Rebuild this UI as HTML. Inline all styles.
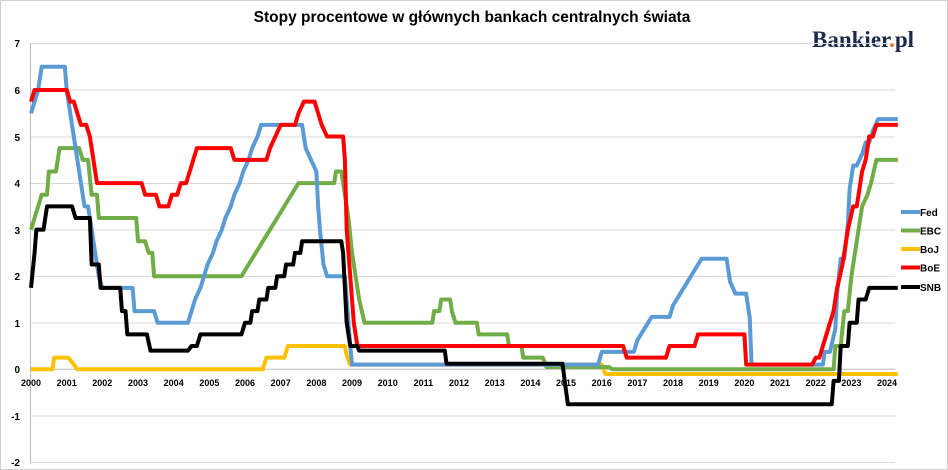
<!DOCTYPE html>
<html><head><meta charset="utf-8"><style>
body{margin:0;background:#fff}
svg{display:block;font-family:"Liberation Sans",Arial,sans-serif}
</style></head><body>
<svg width="948" height="470" xmlns="http://www.w3.org/2000/svg">
<rect x="0.5" y="0.5" width="947" height="469" fill="#fff" stroke="#d0d0d0"/>
<text x="472" y="22" text-anchor="middle" font-size="15.5" font-weight="bold" fill="#000">Stopy procentowe w głównych bankach centralnych świata</text>
<text x="812" y="47" font-family="Liberation Serif,serif" font-size="23" font-weight="bold" fill="#1c2a4a">Bankier<tspan fill="#e8662a">.</tspan>pl</text>
<g stroke="#d9d9d9" stroke-width="1">
<line x1="30" x2="895" y1="43.5" y2="43.5"/>
<line x1="30" x2="895" y1="90" y2="90"/>
<line x1="30" x2="895" y1="137" y2="137"/>
<line x1="30" x2="895" y1="183.5" y2="183.5"/>
<line x1="30" x2="895" y1="230" y2="230"/>
<line x1="30" x2="895" y1="276.5" y2="276.5"/>
<line x1="30" x2="895" y1="323" y2="323"/>
<line x1="30" x2="895" y1="416" y2="416"/>
<line x1="30" x2="895" y1="462.5" y2="462.5"/>
</g>
<line x1="30.5" x2="30.5" y1="43" y2="463" stroke="#bbb"/>
<line x1="30" x2="895" y1="369.3" y2="369.3" stroke="#bbb"/>
<g font-size="10" font-weight="bold" fill="#000" text-anchor="end">
<text x="20" y="47">7</text><text x="20" y="94">6</text><text x="20" y="141">5</text><text x="20" y="187">4</text><text x="20" y="234">3</text><text x="20" y="280">2</text><text x="20" y="327">1</text><text x="20" y="373">0</text><text x="20" y="420">-1</text><text x="20" y="466">-2</text>
</g>
<g font-size="9" font-weight="bold" fill="#000" text-anchor="middle">
<text x="31" y="386">2000</text><text x="66.7" y="386">2001</text><text x="102.3" y="386">2002</text><text x="138" y="386">2003</text><text x="173.7" y="386">2004</text><text x="209.4" y="386">2005</text><text x="245" y="386">2006</text><text x="280.7" y="386">2007</text><text x="316.4" y="386">2008</text><text x="352" y="386">2009</text><text x="387.7" y="386">2010</text><text x="423.4" y="386">2011</text><text x="459" y="386">2012</text><text x="494.7" y="386">2013</text><text x="530.4" y="386">2014</text><text x="566" y="386">2015</text><text x="601.7" y="386">2016</text><text x="637.4" y="386">2017</text><text x="673" y="386">2018</text><text x="708.7" y="386">2019</text><text x="744.4" y="386">2020</text><text x="780" y="386">2021</text><text x="815.7" y="386">2022</text><text x="851.4" y="386">2023</text><text x="887" y="386">2024</text>
</g>
<g transform="matrix(35.67 0 0 -46.55 31 369.3)" fill="none" stroke-linejoin="round">
<polyline stroke="#ffc000" stroke-width="4" vector-effect="non-scaling-stroke" points="0,0 0.6,0 0.65,0.25 1.05,0.25 1.15,0.15 1.3,0 6.5,0 6.6,0.25 7.1,0.25 7.2,0.5 8.8,0.5 8.85,0.3 8.95,0.1 16,0.1 16.1,-0.1 24.3,-0.1"/>
<polyline stroke="#70ad47" stroke-width="4" vector-effect="non-scaling-stroke" points="0,3 0.3,3.75 0.45,3.75 0.5,4.25 0.7,4.25 0.8,4.75 1.35,4.75 1.45,4.5 1.6,4.5 1.7,3.75 1.85,3.75 1.9,3.25 2.95,3.25 3,2.75 3.2,2.75 3.3,2.5 3.4,2.5 3.45,2 5.9,2 6.1,2.25 6.3,2.5 6.5,2.75 6.7,3 6.9,3.25 7.1,3.5 7.3,3.75 7.5,4 8.5,4 8.55,4.25 8.7,4.25 8.8,3.75 8.9,3.25 9,2.5 9.1,2 9.2,1.5 9.35,1 11.25,1 11.3,1.25 11.45,1.25 11.5,1.5 11.75,1.5 11.8,1.25 11.9,1 12.5,1 12.55,0.75 13.35,0.75 13.4,0.5 13.75,0.5 13.8,0.25 14.35,0.25 14.45,0.05 16.2,0.05 16.3,0 22.5,0 22.55,0.5 22.7,0.5 22.8,1.25 22.9,1.25 23,2 23.1,2.5 23.2,3 23.3,3.5 23.45,3.75 23.55,4 23.7,4.5 24.3,4.5"/>
<polyline stroke="#5b9bd5" stroke-width="4" vector-effect="non-scaling-stroke" points="0,5.5 0.1,5.75 0.2,6 0.3,6.5 0.95,6.5 1,6 1.1,5.5 1.2,5 1.3,4.5 1.4,4 1.5,3.5 1.6,3.5 1.7,3 1.8,2.5 1.9,2 2,1.75 2.85,1.75 2.9,1.25 3.45,1.25 3.55,1 4.4,1 4.5,1.25 4.6,1.5 4.75,1.75 4.85,2 4.95,2.25 5.1,2.5 5.2,2.75 5.35,3 5.45,3.25 5.6,3.5 5.7,3.75 5.85,4 5.95,4.25 6.1,4.5 6.2,4.75 6.35,5 6.45,5.25 7.6,5.25 7.7,4.75 7.85,4.5 8,4.25 8.05,3.5 8.1,3 8.2,2.25 8.3,2 8.8,2 8.85,1.5 8.9,1 8.95,0.5 9,0.1 15.9,0.1 16,0.375 16.9,0.375 17,0.625 17.2,0.875 17.4,1.125 17.9,1.125 18,1.375 18.2,1.625 18.4,1.875 18.6,2.125 18.8,2.375 19.5,2.375 19.6,1.875 19.75,1.625 20.05,1.625 20.15,1.1 20.2,0.1 22.2,0.1 22.25,0.375 22.4,0.375 22.55,0.875 22.6,1.625 22.7,2.375 22.8,2.375 22.9,3.125 22.95,3.875 23.05,4.375 23.15,4.375 23.3,4.625 23.4,4.875 23.5,4.875 23.6,5.125 23.75,5.375 24.3,5.375"/>
<polyline stroke="#ff0000" stroke-width="4" vector-effect="non-scaling-stroke" points="0,5.75 0.1,6 1,6 1.1,5.75 1.2,5.75 1.3,5.5 1.4,5.25 1.55,5.25 1.65,5 1.75,4.5 1.85,4 3.1,4 3.2,3.75 3.5,3.75 3.6,3.5 3.85,3.5 3.95,3.75 4.1,3.75 4.2,4 4.35,4 4.45,4.25 4.55,4.5 4.65,4.75 5.6,4.75 5.7,4.5 6.6,4.5 6.7,4.75 6.85,5 7,5.25 7.4,5.25 7.5,5.5 7.65,5.75 7.95,5.75 8.05,5.5 8.15,5.25 8.3,5 8.75,5 8.8,4.5 8.85,3 8.95,2 9.05,1 9.15,0.5 16.6,0.5 16.7,0.25 17.8,0.25 17.9,0.5 18.6,0.5 18.7,0.75 20,0.75 20.05,0.1 21.9,0.1 22,0.25 22.1,0.25 22.2,0.5 22.3,0.75 22.4,1 22.5,1.25 22.6,1.75 22.75,2.25 22.9,3 23.05,3.5 23.15,3.5 23.25,4 23.3,4.25 23.4,4.5 23.5,5 23.6,5 23.7,5.25 24.3,5.25"/>
<polyline stroke="#000" stroke-width="4" vector-effect="non-scaling-stroke" points="0,1.75 0.1,2.5 0.15,3 0.35,3 0.45,3.5 1.15,3.5 1.25,3.25 1.65,3.25 1.7,2.25 1.9,2.25 1.95,1.75 2.5,1.75 2.55,1.25 2.65,1.25 2.7,0.75 3.25,0.75 3.35,0.4 4.4,0.4 4.5,0.5 4.65,0.5 4.75,0.75 5.9,0.75 6,1 6.15,1 6.2,1.25 6.35,1.25 6.4,1.5 6.6,1.5 6.65,1.75 6.85,1.75 6.9,2 7.1,2 7.15,2.25 7.35,2.25 7.4,2.5 7.55,2.5 7.6,2.75 8.7,2.75 8.75,2.5 8.85,1 8.95,0.5 9.15,0.5 9.2,0.4 11.6,0.4 11.65,0.12 14.9,0.12 15.05,-0.75 22.45,-0.75 22.5,-0.25 22.65,-0.25 22.7,0.5 22.9,0.5 22.95,1 23.15,1 23.2,1.5 23.4,1.5 23.5,1.75 24.3,1.75"/>
</g>
<g stroke-width="4">
<line x1="901" x2="920" y1="212" y2="212" stroke="#5b9bd5"/>
<line x1="901" x2="920" y1="230.5" y2="230.5" stroke="#70ad47"/>
<line x1="901" x2="920" y1="249" y2="249" stroke="#ffc000"/>
<line x1="901" x2="920" y1="267.5" y2="267.5" stroke="#ff0000"/>
<line x1="901" x2="920" y1="287" y2="287" stroke="#000"/>
</g>
<g font-size="10" font-weight="bold" fill="#000">
<text x="920" y="216">Fed</text><text x="920" y="234.5">EBC</text><text x="920" y="253">BoJ</text><text x="920" y="271.5">BoE</text><text x="920" y="291">SNB</text>
</g>
</svg>
</body></html>
